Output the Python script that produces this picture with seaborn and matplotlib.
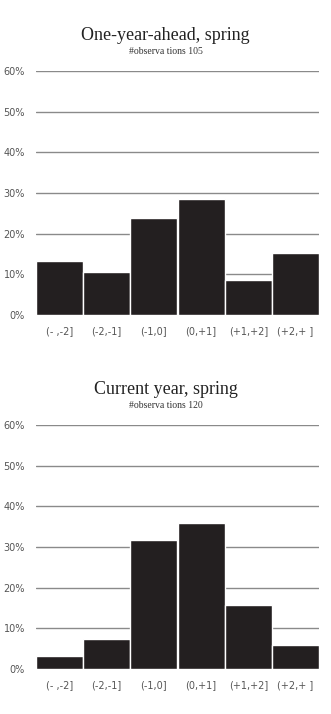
import matplotlib
matplotlib.use("Agg")
import matplotlib.pyplot as plt
import seaborn as sns
import pandas as pd

categories = ["(- ,-2]", "(-2,-1]", "(-1,0]", "(0,+1]", "(+1,+2]", "(+2,+ ]"]
ahead_share = [13.3, 10.5, 23.8, 28.6, 8.6, 15.2]
current_share = [3.3, 7.5, 31.7, 35.8, 15.8, 5.8]
titles = ["One-year-ahead, spring", "Current year, spring"]
subtitles = ["#observa tions 105", "#observa tions 120"]
yticks = [0, 10, 20, 30, 40, 50, 60]

sns.set_theme(style="white")
plt.rcParams["font.family"] = ["DejaVu Sans"]

fig = plt.figure(figsize=(3.31, 7.14), dpi=100)
W, H = 331, 714
ax_specs = [(71, 315), (425, 669)]
title_y = [35, 390]
sub_y = [51, 405]
datasets = [ahead_share, current_share]

for i, (top, bot) in enumerate(ax_specs):
    ax = fig.add_axes([36 / W, 1 - bot / H, (319 - 36) / W, (bot - top) / H])
    df = pd.DataFrame({"cat": categories, "val": datasets[i]})
    sns.barplot(data=df, x="cat", y="val", color="#231f20", width=1.0,
                edgecolor="white", linewidth=1.0, saturation=1, ax=ax, zorder=3)
    ax.set_xlim(-0.5, 5.5)
    ax.set_ylim(0, 60)
    ax.set_yticks(yticks)
    ax.set_yticklabels([f"{t}%" for t in yticks])
    for t in yticks[1:]:
        ax.axhline(t, color="#8a8a8a", linewidth=1.0, zorder=1)
    for s in ax.spines.values():
        s.set_visible(False)
    ax.tick_params(axis="both", length=0, labelsize=7, colors="#555555")
    ax.tick_params(axis="y", pad=8)
    ax.tick_params(axis="x", pad=8)
    ax.set_xlabel("")
    ax.set_ylabel("")
    ax.grid(False)
    fig.text(0.5, 1 - title_y[i] / H, titles[i], ha="center", va="center",
             fontsize=13, family=["Liberation Serif"], color="#222222")
    fig.text(0.5, 1 - sub_y[i] / H, subtitles[i], ha="center", va="center",
             fontsize=7, family=["Liberation Serif"], color="#333333")

fig.savefig("out.png", dpi=100)
